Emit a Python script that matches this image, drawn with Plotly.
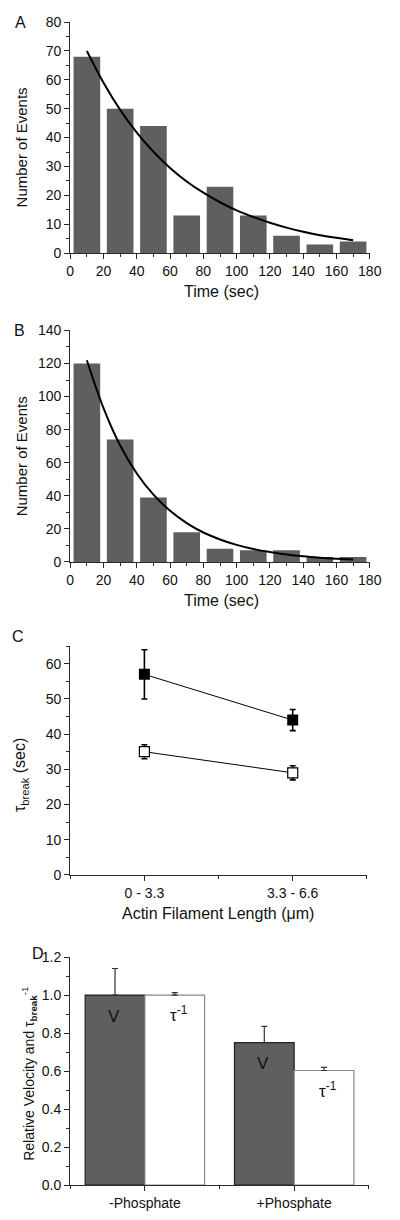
import plotly.graph_objects as go

W, H = 400, 1220
FONT = "Liberation Sans, Arial, sans-serif"
BAR = "#5f5f5f"
AX = "#2a2a2a"

# ---------- data ----------
bin_centers = [10, 30, 50, 70, 90, 110, 130, 150, 170]
counts_a = [68, 50, 44, 13, 23, 13, 6, 3, 4]
counts_b = [120, 74, 39, 18, 8, 7, 7, 3, 3]

fit_x = [10, 20, 30, 40, 50, 60, 70, 80, 90, 100, 110, 120, 130, 140, 150, 160, 170]
fit_a = [70, 59, 49.6, 41.7, 35.1, 29.5, 24.8, 20.9, 17.6, 14.8, 12.5, 10.5, 8.8, 7.4, 6.2, 5.3, 4.4]
fit_b = [122, 93, 70.4, 53.5, 40.7, 30.9, 23.5, 17.8, 13.6, 10.3, 7.8, 6.0, 4.5, 3.4, 2.6, 2.0, 1.5]

length_cats = ["0 - 3.3", "3.3 - 6.6"]
tau_filled = [57, 44]
tau_filled_err = [7, 3]
tau_open = [35, 29]
tau_open_err = [2, 2]

phos_cats = ["-Phosphate", "+Phosphate"]
rel_velocity = [1.0, 0.75]
rel_velocity_err = [0.14, 0.085]
rel_tau_inv = [1.0, 0.603]
rel_tau_inv_err = [0.013, 0.017]


def px(x):
    return x / W


def py(y):
    return 1 - y / H


fig = go.Figure()

# Panel A
fig.add_trace(go.Bar(x=bin_centers, y=counts_a, marker=dict(color=BAR, line=dict(width=0)),
                     xaxis="x", yaxis="y", showlegend=False))
fig.add_trace(go.Scatter(x=fit_x, y=fit_a, mode="lines", line=dict(color="black", width=2, shape="spline"),
                         xaxis="x", yaxis="y", showlegend=False))
# Panel B
fig.add_trace(go.Bar(x=bin_centers, y=counts_b, marker=dict(color=BAR, line=dict(width=0)),
                     xaxis="x2", yaxis="y2", showlegend=False))
fig.add_trace(go.Scatter(x=fit_x, y=fit_b, mode="lines", line=dict(color="black", width=2, shape="spline"),
                         xaxis="x2", yaxis="y2", showlegend=False))
# Panel C
fig.add_trace(go.Scatter(x=length_cats, y=tau_filled, mode="lines+markers",
                         line=dict(color="black", width=1),
                         marker=dict(symbol="square", size=11, color="black"),
                         error_y=dict(type="data", array=tau_filled_err, color="black", thickness=1.6, width=3),
                         xaxis="x3", yaxis="y3", showlegend=False))
fig.add_trace(go.Scatter(x=length_cats, y=tau_open, mode="lines+markers",
                         line=dict(color="black", width=1),
                         marker=dict(symbol="square", size=10, color="white", line=dict(color="black", width=1.2)),
                         error_y=dict(type="data", array=tau_open_err, color="black", thickness=1.6, width=3),
                         xaxis="x3", yaxis="y3", showlegend=False))
# Panel D
fig.add_trace(go.Bar(x=phos_cats, y=rel_velocity, marker=dict(color=BAR, line=dict(color="#222", width=1.2)),
                     error_y=dict(type="data", symmetric=False, array=rel_velocity_err, arrayminus=[0, 0],
                                  color="#333", thickness=1.2, width=3),
                     xaxis="x4", yaxis="y4", showlegend=False))
fig.add_trace(go.Bar(x=phos_cats, y=rel_tau_inv, marker=dict(color="white", line=dict(color="#888", width=1.2)),
                     error_y=dict(type="data", symmetric=False, array=rel_tau_inv_err, arrayminus=[0, 0],
                                  color="#333", thickness=1.2, width=3),
                     xaxis="x4", yaxis="y4", showlegend=False))

tickfont = dict(family=FONT, size=14, color="#111")
common = dict(showline=True, linecolor=AX, linewidth=1.3, ticks="outside", ticklen=5, tickwidth=1.2,
              tickcolor=AX, showgrid=False, zeroline=False, tickfont=tickfont, fixedrange=True)
minor_common = dict(ticks="outside", ticklen=3, tickwidth=1, tickcolor=AX, showgrid=False)

xdomA = [px(69), px(381)]

fig.update_layout(
    width=W, height=H, autosize=False, margin=dict(l=0, r=0, t=0, b=0),
    paper_bgcolor="white", plot_bgcolor="white",
    bargap=0.2, barmode="group", bargroupgap=0,
    font=dict(family=FONT, color="#111"),
    xaxis=dict(domain=xdomA, range=[0, 180], tick0=0, dtick=20, anchor="y",
               minor=dict(dtick=10, **minor_common), **common),
    yaxis=dict(domain=[py(248.3), py(14.3)], range=[0, 80], dtick=10, anchor="x",
               minor=dict(dtick=5, **minor_common), **common),
    xaxis2=dict(domain=xdomA, range=[0, 180], tick0=0, dtick=20, anchor="y2",
                minor=dict(dtick=10, **minor_common), **common),
    yaxis2=dict(domain=[py(561.3), py(326.7)], range=[0, 140], dtick=20, anchor="x2",
                minor=dict(dtick=10, **minor_common), **common),
    xaxis3=dict(domain=[px(69), px(378)], range=[-0.5, 1.5], type="category", anchor="y3",
                minor=dict(tickvals=[-0.5, 0.5, 1.5], **minor_common), **common),
    yaxis3=dict(domain=[py(878.3), py(646.7)], range=[0, 65], dtick=10, anchor="x3",
                minor=dict(dtick=5, **minor_common), **common),
    xaxis4=dict(domain=[px(69), px(380)], range=[-0.5, 1.5], type="category", anchor="y4",
                minor=dict(tickvals=[-0.5, 0.5, 1.5], **minor_common), **common),
    yaxis4=dict(domain=[py(1192.7), py(961.7)], range=[0, 1.2], dtick=0.2, tickformat=".1f", anchor="x4",
                minor=dict(dtick=0.1, **minor_common), **common),
)

ann = []


def paper_text(text, x, y, angle=0, size=16):
    ann.append(dict(text=text, x=px(x), y=py(y), xref="paper", yref="paper", showarrow=False,
                    textangle=angle, xanchor="center", yanchor="middle",
                    font=dict(family=FONT, size=size, color="#111")))


# panel letters
paper_text("A", 17, 15)
paper_text("B", 16, 327)
paper_text("C", 15, 637)
paper_text("D", 35, 958)
# axis titles
paper_text("Time (sec)", 227, 287)
paper_text("Number of Events", 18, 141, -90, 15)
paper_text("Time (sec)", 227, 600)
paper_text("Number of Events", 18, 454, -90, 15)
paper_text("τ<sub>break</sub> (sec)", 18, 777, -90, 16)
paper_text("Actin Filament Length (μm)", 223, 918)
paper_text("Relative Velocity and τ<sub><b>break</b></sub><sup>-1</sup>", 26, 1080, -90, 14)

# in-bar labels (panel D)
for cat, v in zip(phos_cats, rel_velocity):
    ann.append(dict(text="V", x=cat, y=v, xref="x4", yref="y4", showarrow=False, xshift=-31, yshift=-21,
                    font=dict(family=FONT, size=17, color="#111")))
for cat, v in zip(phos_cats, rel_tau_inv):
    ann.append(dict(text="τ<sup>-1</sup>", x=cat, y=v, xref="x4", yref="y4", showarrow=False, xshift=34, yshift=-19,
                    font=dict(family=FONT, size=17, color="#111")))

fig.update_layout(annotations=ann)
fig.write_html(
    "out.html",
    config={"responsive": False, "displayModeBar": False},
    post_script="document.body.style.margin='0';document.body.style.overflow='hidden';",
)
